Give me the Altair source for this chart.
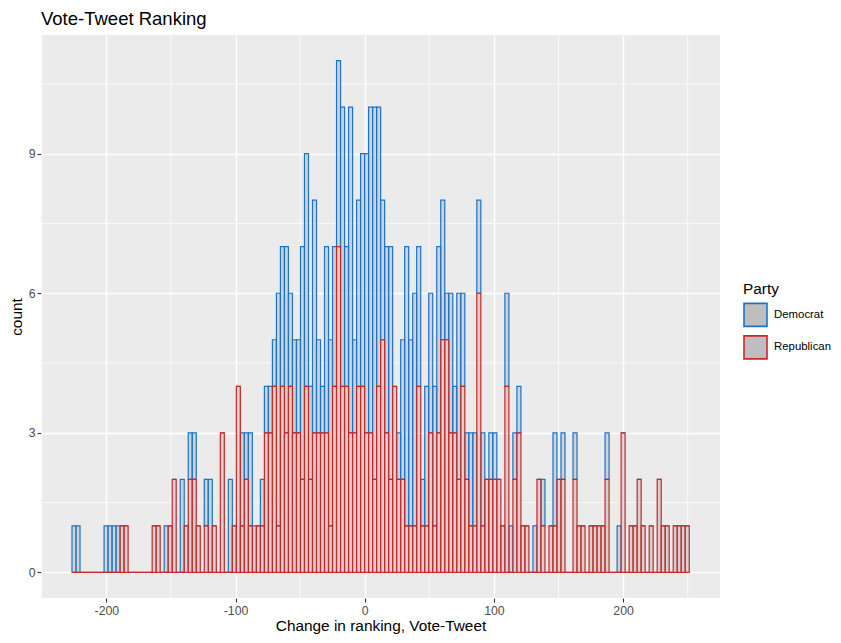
import altair as alt
import pandas as pd

# ---------------- data (histogram of "Change in ranking, Vote-Tweet") ----------------
bin_start = -226.6
bin_end = 251.2
n_bins = 154

democrat = [
    1, 1, 0, 0, 0, 0, 0, 0, 1, 1,
    1, 1, 0, 0, 0, 0, 0, 0, 0, 0,
    0, 0, 0, 1, 0, 0, 0, 2, 0, 1,
    1, 0, 0, 1, 2, 0, 0, 0, 0, 2,
    0, 0, 2, 1, 2, 1, 0, 1, 1, 1,
    1, 5, 3, 4, 2, 2, 2, 5, 5, 2,
    5, 2, 1, 4, 4, 3, 4, 6, 3, 7,
    2, 4, 5, 6, 7, 8, 6, 3, 4, 5,
    0, 1, 3, 6, 4, 5, 3, 1, 3, 3,
    3, 4, 3, 1, 3, 1, 4, 2, 1, 2,
    2, 2, 2, 0, 1, 1, 0, 0, 2, 1,
    1, 1, 0, 0, 0, 1, 0, 1, 0, 0,
    2, 0, 1, 0, 0, 1, 0, 0, 0, 0,
    0, 0, 0, 1, 0, 0, 1, 0, 0, 0,
    0, 0, 0, 0, 0, 0, 0, 0, 0, 0,
    0, 0, 0, 0,
]

republican = [
    0, 0, 0, 0, 0, 0, 0, 0, 0, 0,
    0, 0, 1, 1, 0, 0, 0, 0, 0, 0,
    1, 1, 0, 0, 1, 2, 0, 0, 1, 2,
    2, 1, 0, 1, 0, 1, 0, 3, 0, 0,
    1, 4, 1, 2, 1, 0, 1, 1, 3, 3,
    4, 1, 4, 3, 4, 3, 3, 2, 4, 2,
    3, 3, 3, 3, 1, 4, 7, 4, 4, 3,
    3, 4, 4, 3, 3, 2, 4, 5, 3, 2,
    4, 2, 2, 1, 1, 1, 4, 1, 1, 3,
    1, 3, 5, 5, 3, 3, 2, 4, 2, 1,
    1, 6, 1, 2, 2, 2, 2, 1, 4, 0,
    2, 3, 1, 1, 0, 0, 2, 1, 0, 1,
    1, 2, 2, 0, 0, 2, 1, 1, 0, 1,
    1, 1, 1, 2, 0, 0, 0, 3, 0, 1,
    1, 2, 1, 0, 1, 0, 2, 1, 1, 0,
    1, 1, 1, 1,
]

parties = ["Democrat", "Republican"]
party_colors = ["#1874CD", "#CD2626"]

x_major_ticks = [-200, -100, 0, 100, 200]
x_minor_ticks = [-250, -150, -50, 50, 150, 250]
y_major_ticks = [0, 3, 6, 9]
y_minor_ticks = [1.5, 4.5, 7.5, 10.5]

x_domain = [-250.6, 275.0]
y_domain = [-0.55, 11.55]

# ---------------- table ----------------
bw = (bin_end - bin_start) / n_bins
rows = []
for party, counts in (("Democrat", democrat), ("Republican", republican)):
    for i, c in enumerate(counts):
        rows.append({
            "x0": round(bin_start + i * bw, 4),
            "x1": round(bin_start + (i + 1) * bw, 4),
            "n": c,
            "Party": party,
            "ord": 1 if party == "Democrat" else 0,
        })
df = pd.DataFrame(rows)

FONT = "Liberation Sans"
XTITLE = "Change in ranking, Vote-Tweet"
YTITLE = "count"

xscale = alt.Scale(domain=x_domain, nice=False, zero=False)
yscale = alt.Scale(domain=y_domain, nice=False, zero=False)

xaxis = alt.Axis(values=x_major_ticks, labelExpr="datum.value + ''", title=XTITLE,
                 titlePadding=2)
yaxis = alt.Axis(values=y_major_ticks, title=YTITLE)

minor_x = alt.Chart(pd.DataFrame({"v": x_minor_ticks})).mark_rule(
    color="white", strokeWidth=0.7
).encode(x=alt.X("v:Q", scale=xscale, axis=xaxis))

minor_y = alt.Chart(pd.DataFrame({"v": y_minor_ticks})).mark_rule(
    color="white", strokeWidth=0.7
).encode(y=alt.Y("v:Q", scale=yscale, axis=yaxis))

base = alt.Chart(df).transform_stack(
    stack="n",
    groupby=["x0"],
    as_=["lo", "hi"],
    sort=[alt.SortField("ord", order="ascending")],
)

stroke_enc = alt.Stroke(
    "Party:N",
    scale=alt.Scale(domain=parties, range=party_colors),
    legend=alt.Legend(
        title="Party",
        orient="none",
        legendX=702,
        legendY=247,
        symbolType="square",
        symbolSize=529,
        symbolStrokeWidth=1.6,
        symbolFillColor="#BEBEBE",
        symbolOpacity=1,
        titleFontSize=15.4,
        titleFont=FONT,
        titleFontWeight="normal",
        titleColor="black",
        titlePadding=5,
        labelFontSize=11.4,
        labelFont=FONT,
        labelColor="black",
        labelOffset=6,
        labelLimit=200,
        rowPadding=1.5,
        padding=0,
    ),
)

def layer_for(party):
    return base.transform_filter(f"datum.Party == '{party}'").mark_rect(
        fill="#BEBEBE", fillOpacity=0.55, strokeWidth=1.2
    ).encode(
        x=alt.X("x0:Q", scale=xscale, axis=xaxis),
        x2="x1:Q",
        y=alt.Y("lo:Q", scale=yscale, axis=yaxis),
        y2="hi:Q",
        stroke=stroke_enc,
    )

chart = alt.layer(
    minor_x, minor_y, layer_for("Democrat"), layer_for("Republican")
).properties(
    width=679,
    height=563,
    title=alt.TitleParams(
        "Vote-Tweet Ranking",
        anchor="start",
        frame="group",
        font=FONT,
        fontSize=18.5,
        fontWeight="normal",
        color="black",
        baseline="alphabetic",
        offset=-9,
    ),
    autosize=alt.AutoSizeParams(type="none"),
    padding={"left": 33, "top": 27, "right": 113, "bottom": 37},
).configure_view(
    fill="#EBEBEB", stroke=None
).configure_axis(
    grid=True,
    gridColor="white",
    gridWidth=1.4,
    domain=False,
    tickColor="#333333",
    tickSize=4,
    tickWidth=1.1,
    labelColor="#4D4D4D",
    labelFont=FONT,
    labelFontSize=12.3,
    labelPadding=2,
    titleFont=FONT,
    titleFontSize=15.4,
    titleFontWeight="normal",
    titleColor="black",
    titlePadding=4,
)

chart.save("out.html", embed_options={"renderer": "svg", "actions": False})
